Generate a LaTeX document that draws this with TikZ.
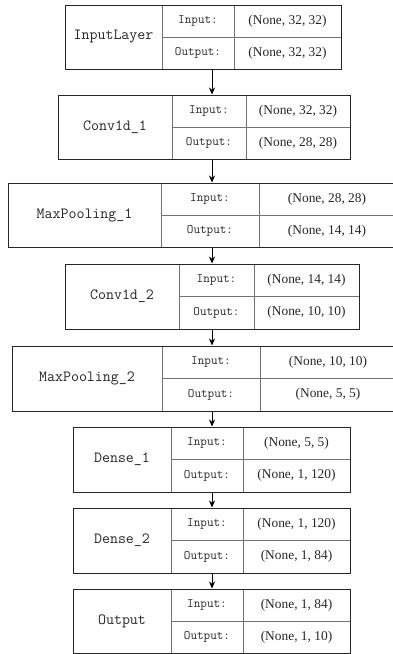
\documentclass[tikz,border=0pt]{standalone}
\usepackage{fontspec}
\usepackage{tikz}
\usetikzlibrary{arrows.meta}
\newfontfamily\tuplefont{Liberation Serif}

\begin{document}
\begin{tikzpicture}[%
    x=1pt,
    y=-1pt,
    >={Stealth[length=7pt,width=6pt]},
    flow/.style={->, line width=0.8pt, draw=black},
    cell/.style={%
      rectangle,
      inner sep=0pt,
      draw=black!55,
      line width=0.9pt,
      text=black!85
    },
    layerbox/.style={%
      rectangle,
      inner sep=0pt,
      draw=black!85,
      line width=1pt
    },
    layername/.style={font=\fontsize{15.5}{18}\selectfont\ttfamily},
    keytext/.style={font=\fontsize{12.8}{15}\selectfont\ttfamily},
    valtext/.style={font=\fontsize{13.4}{16}\selectfont\tuplefont}
  ]
    \useasboundingbox (0,0) rectangle (392,654);

    % one block per layer: id / name / column edges / top and bottom / shapes
    \foreach \id/\lab/\xa/\xb/\xc/\xd/\ya/\yb/\vin/\vout in {%
        1/InputLayer/65/162/234/341/5/69/{(None, 32, 32)}/{(None, 32, 32)},
        2/Conv1d\_1/58/172/246/350/95/159/{(None, 32, 32)}/{(None, 28, 28)},
        3/MaxPooling\_1/8/161/259/395/183/247/{(None, 28, 28)}/{(None, 14, 14)},
        4/Conv1d\_2/65/179/254/359/264/329/{(None, 14, 14)}/{(None, 10, 10)},
        5/MaxPooling\_2/12/162/260/396/346/411/{(None, 10, 10)}/{(None, 5, 5)},
        6/Dense\_1/73/171/243/350/427/492/{(None, 5, 5)}/{(None, 1, 120)},
        7/Dense\_2/73/171/243/350/508/573/{(None, 1, 120)}/{(None, 1, 84)},
        8/Output/73/171/243/350/589/653.5/{(None, 1, 84)}/{(None, 1, 10)}}
    {
      \node[cell, layername, minimum width={(\xb-\xa)*1pt}, minimum height={(\yb-\ya)*1pt}]
        (name\id) at ({(\xa+\xb)/2},{(\ya+\yb)/2}) {\lab};
      \node[cell, keytext, minimum width={(\xc-\xb)*1pt}, minimum height={(\yb-\ya)*0.5pt}]
        (inkey\id) at ({(\xb+\xc)/2},{\ya+(\yb-\ya)/4}) {Input:};
      \node[cell, keytext, minimum width={(\xc-\xb)*1pt}, minimum height={(\yb-\ya)*0.5pt}]
        (outkey\id) at ({(\xb+\xc)/2},{\yb-(\yb-\ya)/4}) {Output:};
      \node[cell, valtext, minimum width={(\xd-\xc)*1pt}, minimum height={(\yb-\ya)*0.5pt}]
        (inval\id) at ({(\xc+\xd)/2},{\ya+(\yb-\ya)/4}) {\vin};
      \node[cell, valtext, minimum width={(\xd-\xc)*1pt}, minimum height={(\yb-\ya)*0.5pt}]
        (outval\id) at ({(\xc+\xd)/2},{\yb-(\yb-\ya)/4}) {\vout};
      \node[layerbox, minimum width={(\xd-\xa)*1pt}, minimum height={(\yb-\ya)*1pt}]
        (layer\id) at ({(\xa+\xd)/2},{(\ya+\yb)/2}) {};
    }

    \coordinate (spine) at (212,0);
    \foreach \a/\b in {1/2,2/3,3/4,4/5,5/6,6/7,7/8}
      \draw[flow] (layer\a.south -| spine) -- (layer\b.north -| spine);
\end{tikzpicture}
\end{document}
